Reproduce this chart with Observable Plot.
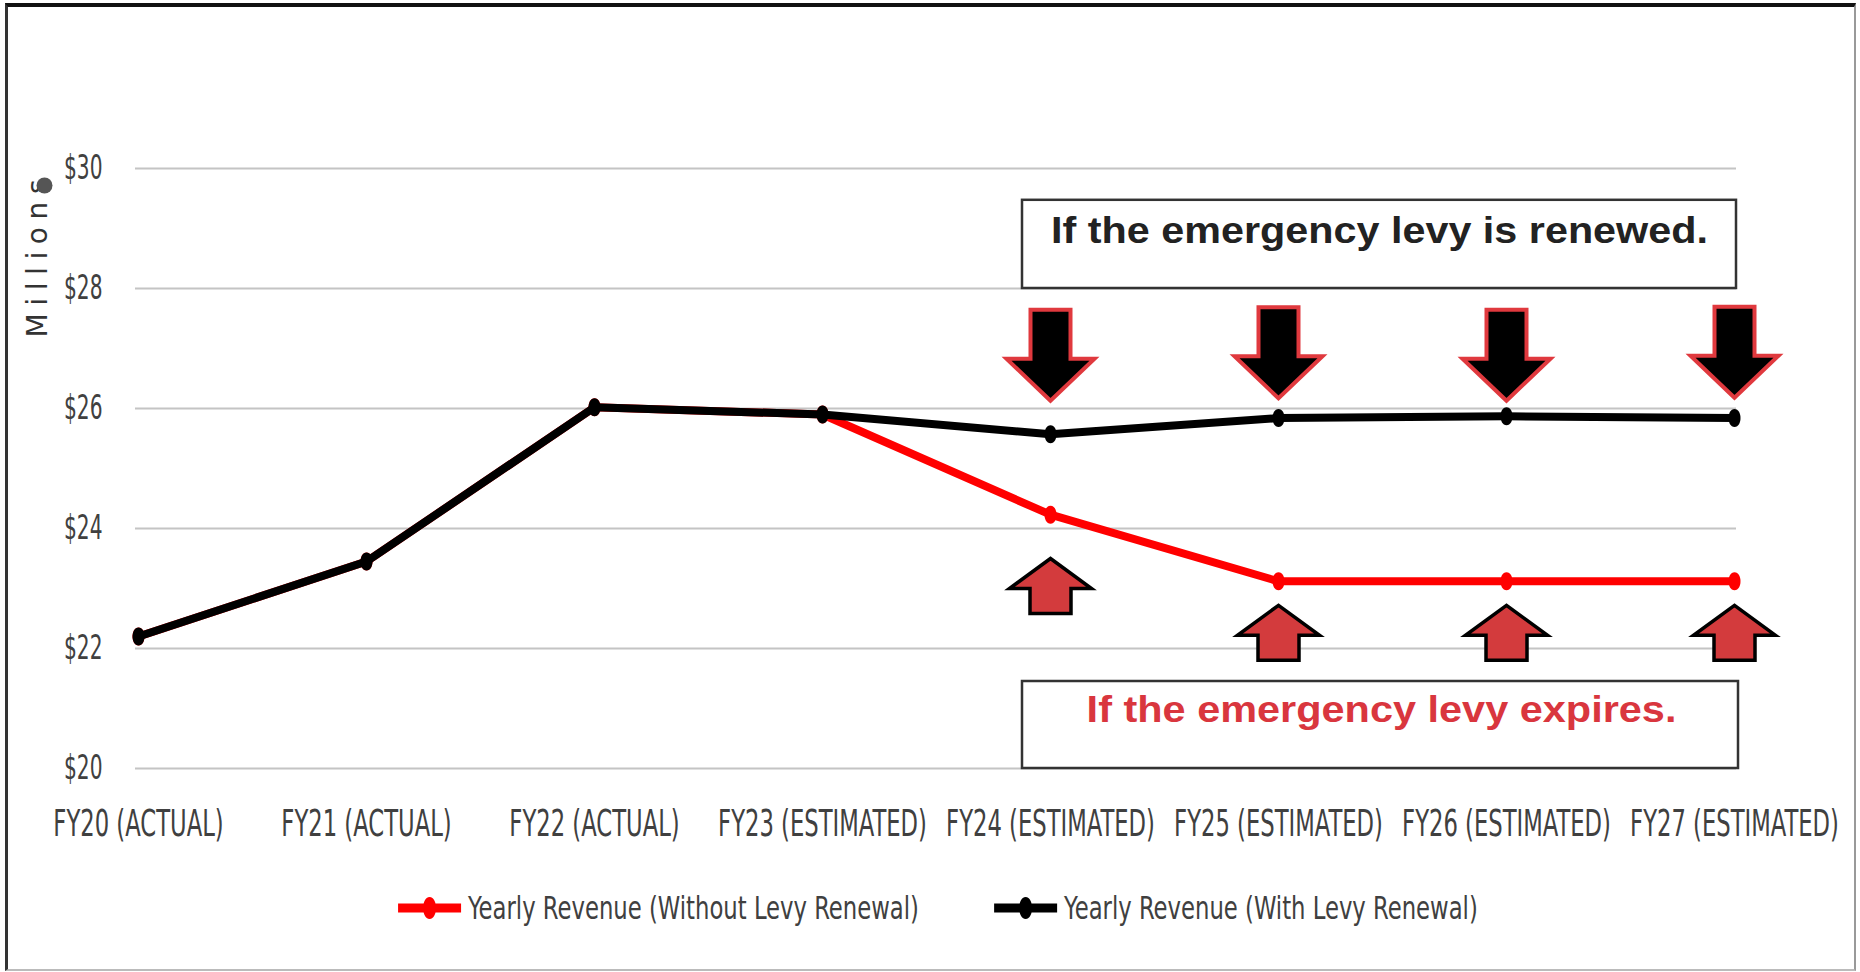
<!DOCTYPE html>
<html>
<head>
<meta charset="utf-8">
<script src="https://cdn.jsdelivr.net/npm/d3@7"></script>
<script src="https://cdn.jsdelivr.net/npm/@observablehq/plot@0.6"></script>
<style>
  html, body { margin: 0; padding: 0; background: #fff; }
  #wrap { position: relative; width: 1860px; height: 972px; overflow: hidden; background: #fff; }
  #frame { position: absolute; left: 5px; top: 3px; width: 1846px; height: 962px;
           border-top: 4px solid #111; border-left: 3px solid #333; border-right: 2px solid #999; border-bottom: 2px solid #bbb;
           pointer-events: none; }
  #chart { position: absolute; left: 0; top: 0; }
  #legend { position: absolute; left: 0; top: 880px; width: 1860px; height: 56px; }
</style>
</head>
<body>
<div id="wrap">
  <div id="chart"></div>
  <div id="legend"></div>
  <div id="frame"></div>
</div>
<script>
// ---- data ----
const categories = ["FY20 (ACTUAL)", "FY21 (ACTUAL)", "FY22 (ACTUAL)", "FY23 (ESTIMATED)",
                    "FY24 (ESTIMATED)", "FY25 (ESTIMATED)", "FY26 (ESTIMATED)", "FY27 (ESTIMATED)"];
const withoutRenewal = [22.2, 23.45, 26.02, 25.9, 24.23, 23.12, 23.12, 23.12];
const withRenewal    = [22.2, 23.45, 26.02, 25.9, 25.57, 25.84, 25.87, 25.84];
const seriesNames = ["Yearly Revenue (Without Levy Renewal)", "Yearly Revenue (With Levy Renewal)"];
const seriesColors = ["#ff0000", "#000000"];
const yTicks = [20, 22, 24, 26, 28, 30];
const downArrowCats = ["FY24 (ESTIMATED)", "FY25 (ESTIMATED)", "FY26 (ESTIMATED)", "FY27 (ESTIMATED)"];
const downArrowTips = [26.13, 26.17, 26.13, 26.18];
const upArrowCats = ["FY24 (ESTIMATED)", "FY25 (ESTIMATED)", "FY26 (ESTIMATED)", "FY27 (ESTIMATED)"];
const upArrowTips = [23.5, 22.72, 22.72, 22.72];
const noteRenewed = "If the emergency levy is renewed.";
const noteExpires = "If the emergency levy expires.";

const redRows = categories.map((c, i) => ({cat: c, value: withoutRenewal[i]}));
const blackRows = categories.map((c, i) => ({cat: c, value: withRenewal[i]}));
const downRows = downArrowCats.map((c, i) => ({cat: c, value: downArrowTips[i]}));
const upRows = upArrowCats.map((c, i) => ({cat: c, value: upArrowTips[i]}));

const downArrow = { draw(ctx) {
  ctx.moveTo(0, 0); ctx.lineTo(-44, -42); ctx.lineTo(-20, -42); ctx.lineTo(-20, -91);
  ctx.lineTo(20, -91); ctx.lineTo(20, -42); ctx.lineTo(44, -42); ctx.closePath();
}};
const upArrow = { draw(ctx) {
  ctx.moveTo(0, 0); ctx.lineTo(41, 30); ctx.lineTo(20.5, 30); ctx.lineTo(20.5, 55);
  ctx.lineTo(-20.5, 55); ctx.lineTo(-20.5, 30); ctx.lineTo(-41, 30); ctx.closePath();
}};
const blob = { draw(ctx) {
  ctx.moveTo(0, -9);
  ctx.bezierCurveTo(8, -9, 8, 9, 0, 9);
  ctx.bezierCurveTo(-8, 9, -8, -9, 0, -9);
  ctx.closePath();
}};

const tickFont = '"Liberation Sans Narrow", "DejaVu Sans Condensed", sans-serif';
const noteFont = '"Liberation Sans", Arial, sans-serif';

const chart = Plot.plot({
  width: 1860,
  height: 880,
  marginLeft: 135,
  marginRight: 124,
  marginTop: 168,
  marginBottom: 112,
  style: {background: "transparent", overflow: "visible"},
  x: {type: "point", domain: categories, padding: 0},
  y: {domain: [20, 30]},
  marks: [
    Plot.ruleY(yTicks, {stroke: "#c4c4c4", strokeWidth: 2}),
    Plot.axisY({ticks: yTicks, tickSize: 0, tickPadding: 33, tickFormat: d => "$" + d,
                fontSize: 33, fontFamily: tickFont, fill: "#404040", label: null}),
    Plot.axisX({tickSize: 0, tickPadding: 41, fontSize: 38, fontFamily: tickFont, fill: "#404040", label: null}),
    Plot.text(["Millions"], {frameAnchor: "top-left", dx: -97, dy: 90, rotate: -90,
                fontSize: 28, fontFamily: '"DejaVu Sans", sans-serif', fill: "#333",
                textAnchor: "middle", lineAnchor: "middle"}),
    Plot.dot([0], {frameAnchor: "top-left", dx: -91, dy: 17, r: 8, fill: "#555"}),
    // annotation boxes
    Plot.rect([0], {x1: () => "FY24 (ESTIMATED)", x2: () => "FY27 (ESTIMATED)", y1: 28.0, y2: 29.47,
                    insetLeft: -28, insetRight: -2, fill: "white", stroke: "#333", strokeWidth: 2.5}),
    Plot.rect([0], {x1: () => "FY24 (ESTIMATED)", x2: () => "FY27 (ESTIMATED)", y1: 20.0, y2: 21.45,
                    insetLeft: -28, insetRight: -4, fill: "white", stroke: "#333", strokeWidth: 2.5}),
    Plot.text([noteRenewed], {x: () => "FY25 (ESTIMATED)", y: 28.95, dx: 101, text: d => d,
                    fontSize: 37, fontWeight: "bold", fontFamily: noteFont, fill: "#222", lineAnchor: "middle"}),
    Plot.text([noteExpires], {x: () => "FY25 (ESTIMATED)", y: 20.97, dx: 103, text: d => d,
                    fontSize: 37, fontWeight: "bold", fontFamily: noteFont, fill: "#d9363e", lineAnchor: "middle"}),
    // series
    Plot.line(redRows, {x: "cat", y: "value", stroke: "#ff0000", strokeWidth: 8}),
    Plot.dot(redRows, {x: "cat", y: "value", symbol: blob, fill: "#ff0000"}),
    Plot.line(blackRows, {x: "cat", y: "value", stroke: "#000", strokeWidth: 8}),
    Plot.dot(blackRows, {x: "cat", y: "value", symbol: blob, fill: "#000"}),
    // arrows
    Plot.dot(downRows, {x: "cat", y: "value", symbol: downArrow, fill: "#000", stroke: "#e0393e", strokeWidth: 4}),
    Plot.dot(upRows, {x: "cat", y: "value", symbol: upArrow, fill: "#d33b3d", stroke: "#000", strokeWidth: 3.5})
  ]
});
document.getElementById("chart").appendChild(chart);

// horizontally scale text around its anchor (the reference uses a narrow / wide face)
function squeeze(el, sx) {
  const x = parseFloat(el.getAttribute("x")) || 0;
  const tr = el.getAttribute("transform") || "";
  el.setAttribute("transform", `${tr} translate(${x},0) scale(${sx.toFixed(4)},1) translate(${-x},0)`.trim());
}
d3.select(chart).selectAll('g[aria-label="x-axis tick label"] text').each(function() { squeeze(this, 0.664); });
d3.select(chart).selectAll('g[aria-label="y-axis tick label"] text').each(function() { squeeze(this, 0.68); });
d3.select(chart).selectAll("text").each(function() {
  const t = this.textContent;
  if (t === noteRenewed) squeeze(this, 657 / this.getComputedTextLength());
  if (t === noteExpires) squeeze(this, 590 / this.getComputedTextLength());
  if (t === "Millions") { this.setAttribute("textLength", 158); this.setAttribute("lengthAdjust", "spacing"); }
});

// legend
const lsvg = d3.select("#legend").append("svg").attr("width", 1860).attr("height", 56);
const swatchW = 63, swatchGap = 7, itemGap = 75, legRatio = 0.79;
const items = seriesNames.map((name, i) => {
  const g = lsvg.append("g");
  g.append("line").attr("x1", 0).attr("x2", swatchW).attr("y1", 28).attr("y2", 28)
    .attr("stroke", seriesColors[i]).attr("stroke-width", 9);
  g.append("path").attr("d", "M31.5,17 C40,17 40,39 31.5,39 C23,39 23,17 31.5,17 Z").attr("fill", seriesColors[i]);
  const t = g.append("text").attr("dy", "0.35em")
    .attr("font-family", tickFont).attr("font-size", 32).attr("fill", "#404040").text(name);
  const w = t.node().getComputedTextLength() * legRatio;
  t.attr("transform", `translate(${swatchW + swatchGap},28) scale(${legRatio},1)`);
  return {g, w: swatchW + swatchGap + w};
});
const total = d3.sum(items, d => d.w) + itemGap * (items.length - 1);
let x0 = (1860 - total) / 2 + 8;
items.forEach(it => { it.g.attr("transform", `translate(${x0},0)`); x0 += it.w + itemGap; });
</script>
</body>
</html>
